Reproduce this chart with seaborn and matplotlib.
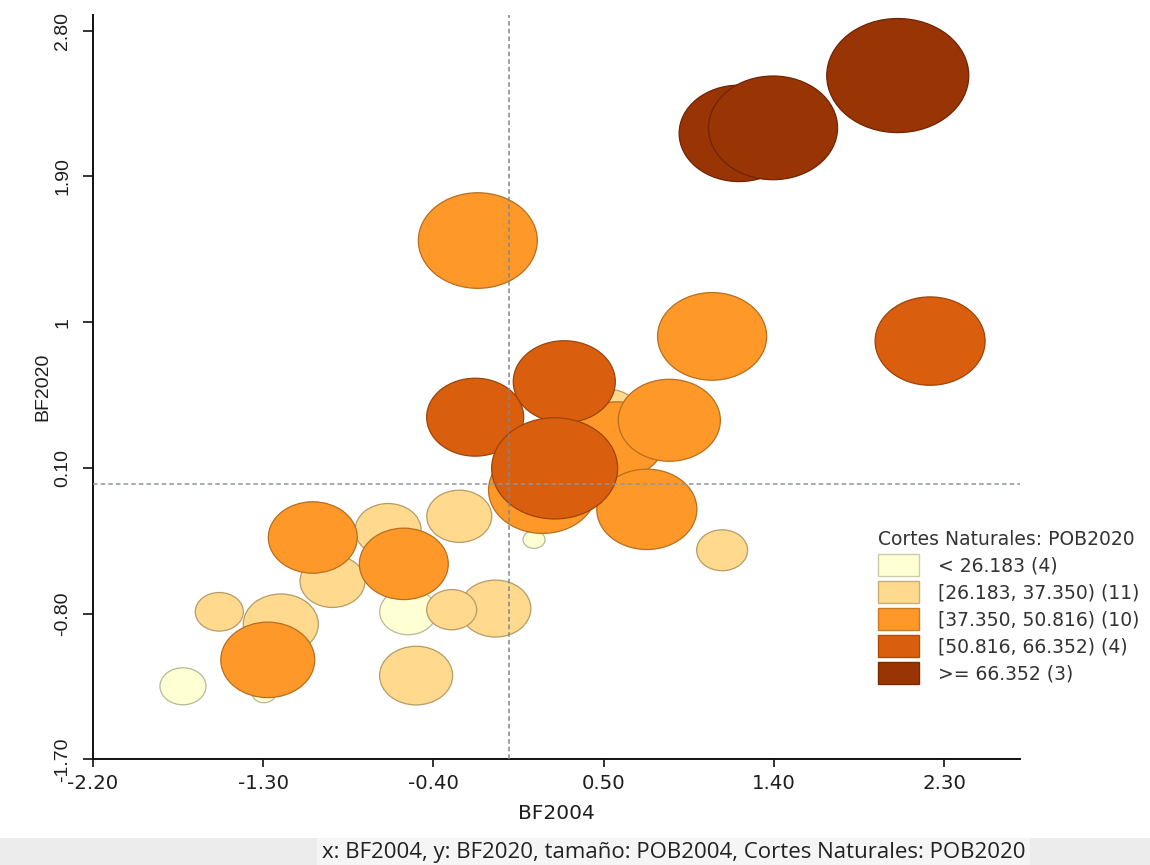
import numpy as np
import pandas as pd
import matplotlib
matplotlib.use("Agg")
import matplotlib.pyplot as plt
from matplotlib.path import Path
from matplotlib.patches import Patch, Rectangle
import matplotlib.colors as mcolors
import seaborn as sns

# ---- data: standardized BF2004 / BF2020, population 2004 (thousands), POB2020 class ----
bf2004 = [-1.723, -1.295, -0.533, 0.132,
          -1.531, -1.206, -0.933, -0.639, -0.491, -0.072, -0.303, -0.263, 1.126, 0.524, 0.243,
          -1.275, -1.037, -0.556, -0.165, 0.177, 0.571, 0.728, 0.847, 1.073, 0.259,
          -0.179, 0.292, 2.225, 0.241,
          1.216, 1.395, 2.054]
bf2020 = [-1.249, -1.291, -0.789, -0.343,
          -0.789, -0.865, -0.601, -0.284, -1.183, -0.769, -0.776, -0.199, -0.409, 0.426, 0.084,
          -1.086, -0.330, -0.493, 1.504, -0.037, 0.272, -0.156, 0.394, 0.912, 0.074,
          0.413, 0.632, 0.883, 0.097,
          2.166, 2.200, 2.523]
pob2004 = [25.6, 13.3, 31.7, 12.2,
           26.7, 41.7, 36.1, 36.7, 40.6, 39.4, 27.8, 36.1, 28.3, 35.6, 33.3,
           52.2, 49.4, 49.4, 66.1, 60.0, 52.8, 55.6, 56.7, 60.6, 48.9,
           53.9, 56.7, 61.1, 70.0,
           66.7, 71.7, 78.9]
clase_pob2020 = [0] * 4 + [1] * 11 + [2] * 10 + [3] * 4 + [4] * 3

clases = ["< 26.183 (4)", "[26.183, 37.350) (11)", "[37.350, 50.816) (10)",
          "[50.816, 66.352) (4)", ">= 66.352 (3)"]
colores = ["#ffffd4", "#fed98e", "#fe9929", "#d95f0e", "#993404"]

x_ticks = [-2.20, -1.30, -0.40, 0.50, 1.40, 2.30]
x_ticklabels = ["-2.20", "-1.30", "-0.40", "0.50", "1.40", "2.30"]
y_ticks = [-1.70, -0.80, 0.10, 1.00, 1.90, 2.80]
y_ticklabels = ["-1.70", "-0.80", "0.10", "1", "1.90", "2.80"]

df = pd.DataFrame({
    "BF2004": bf2004,
    "BF2020": bf2020,
    "POB2004": pob2004,
    "Cortes": [clases[i] for i in clase_pob2020],
})

sns.set_theme(style="white")
plt.rcParams["font.family"] = ["DejaVu Sans"]
narrow = ["Liberation Sans Narrow", "Liberation Sans", "DejaVu Sans"]

W, H, DPI = 1150, 865, 100
fig = plt.figure(figsize=(W / DPI, H / DPI), dpi=DPI)
fig.patch.set_facecolor("white")

# axes box in pixels: left 92.7, right 1020, top 15, bottom 759.3
ax_l, ax_r, ax_t, ax_b = 92.7, 1020.0, 15.0, 759.3
ax = fig.add_axes([ax_l / W, 1 - ax_b / H, (ax_r - ax_l) / W, (ax_b - ax_t) / H])
ax.set_xlim(-2.20, 2.70)
ax.set_ylim(-1.70, 2.897)

# bubbles: elliptical marker, width proportional to POB2004
ASPECT = 1.245
circ = Path.unit_circle()
ellipse = Path(circ.vertices * np.array([1.0, 1.0 / ASPECT]), circ.codes)
PX_PER_POP = 1.8
sizes_pt2 = (np.asarray(pob2004) * PX_PER_POP * 72.0 / DPI) ** 2

def darker(c, f=0.72):
    r, g, b = mcolors.to_rgb(c)
    return (r * f, g * f, b * f)

edges = [darker(colores[i]) for i in clase_pob2020]

sns.scatterplot(data=df, x="BF2004", y="BF2020", hue="Cortes", hue_order=clases,
                palette=dict(zip(clases, colores)), marker=ellipse, s=sizes_pt2,
                edgecolor=edges, linewidth=0.9, alpha=1.0, legend=False,
                ax=ax, zorder=3)

# mean reference lines
ax.axvline(0.0, color="#80868f", lw=1.1, ls=(0, (3, 2)), zorder=4)
ax.axhline(0.0, color="#8e94a0", lw=1.1, ls=(0, (3, 2)), zorder=4)

# axes styling
sns.despine(ax=ax)
for side in ("left", "bottom"):
    ax.spines[side].set_color("#111111")
    ax.spines[side].set_linewidth(1.4)
ax.grid(False)

ax.set_xticks(x_ticks)
ax.set_xticklabels(x_ticklabels, fontsize=14.2, color="#1e1e1e")
ax.set_yticks(y_ticks)
ax.set_yticklabels(y_ticklabels, fontsize=14, color="#1e1e1e", rotation=90,
                   va="center", family=narrow)
ax.tick_params(axis="x", bottom=True, direction="out", length=5.8, width=1.2,
               color="#111111", pad=5)
ax.tick_params(axis="y", left=True, direction="out", length=7.2, width=1.2,
               color="#111111", pad=8.3)

ax.set_xlabel("BF2004", fontsize=14.5, color="#1e1e1e")
ax.xaxis.set_label_coords(0.5, -0.060)
ax.set_ylabel("BF2020", fontsize=14, color="#1e1e1e", family=narrow)
ax.yaxis.set_label_coords(-0.045, 0.5)

# legend of natural breaks
handles = [Patch(facecolor=c, edgecolor=darker(c, 0.8), linewidth=1.0) for c in colores]
leg = ax.legend(handles, clases, title="Cortes Naturales: POB2020",
                loc="upper left", bbox_to_anchor=(878 / W, 1 - 529.7 / H),
                bbox_transform=fig.transFigure, frameon=False,
                fontsize=13.5, title_fontsize=13.5, alignment="left",
                handlelength=2.19, handleheight=1.41, handletextpad=1.02,
                labelspacing=0.28, borderpad=0, borderaxespad=0)
for t in leg.get_texts():
    t.set_color("#333333")
leg.get_title().set_color("#333333")

# status bar with the variable summary
fig.add_artist(Rectangle((0, 0), 1, 27 / H, transform=fig.transFigure,
                         facecolor="#ececec", edgecolor="none", zorder=0))
fig.add_artist(Rectangle((317 / W, 0), (1030 - 317) / W, 27 / H, transform=fig.transFigure,
                         facecolor="#f5f5f5", edgecolor="none", zorder=0))
fig.text(321.7 / W, (H - 858.3) / H,
         "x: BF2004, y: BF2020, tamaño: POB2004, Cortes Naturales: POB2020",
         fontsize=16, family=["Open Sans", "DejaVu Sans"], color="#222222",
         ha="left", va="baseline")

fig.savefig("out.png", dpi=DPI)
